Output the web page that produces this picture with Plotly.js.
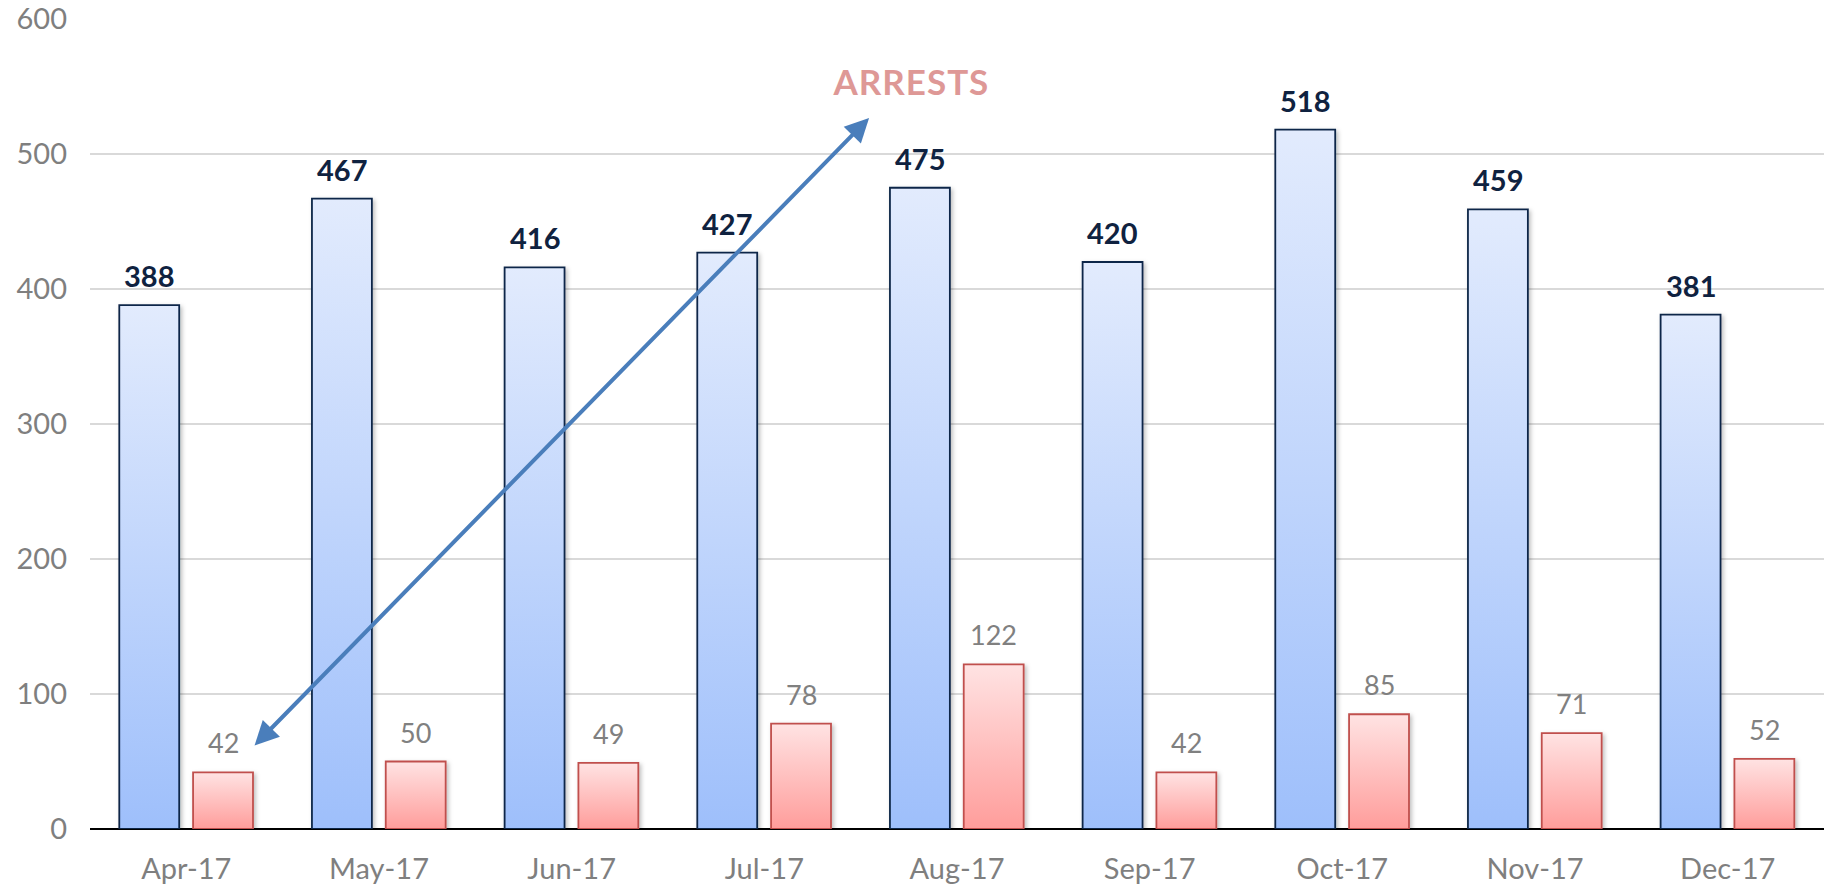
<!DOCTYPE html>
<html>
<head>
<meta charset="utf-8">
<script src="https://cdn.plot.ly/plotly-3.0.1.min.js"></script>
<style>
html,body{margin:0;padding:0;background:#fff;}
#chart{width:1831px;height:889px;}
</style>
</head>
<body>
<div id="chart"></div>
<script>
const months = ["Apr-17","May-17","Jun-17","Jul-17","Aug-17","Sep-17","Oct-17","Nov-17","Dec-17"];
const totalValues = [388,467,416,427,475,420,518,459,381];
const arrestValues = [42,50,49,78,122,42,85,71,52];
const yTicks = [0,100,200,300,400,500,600];
const calloutText = "ARRESTS";

const FONT = "Lato, 'Open Sans', sans-serif";
const BAR_W = 0.311;
const BLUE_OFF = -0.348;
const RED_OFF = 0.035;

const traces = [
  {
    type: "bar", name: "Total", x: months, y: totalValues,
    width: BAR_W, offset: BLUE_OFF,
    marker: {color: "#C0D5FC", line: {color: "#10284A", width: 1.8}},
    hoverinfo: "x+y"
  },
  {
    type: "bar", name: "Arrests", x: months, y: arrestValues,
    width: BAR_W, offset: RED_OFF,
    marker: {color: "#FFC0C0", line: {color: "#C0504D", width: 1.8}},
    hoverinfo: "x+y"
  }
];

const annotations = [];
months.forEach((m, i) => {
  annotations.push({
    x: i + BLUE_OFF + BAR_W / 2, y: totalValues[i], xref: "x", yref: "y",
    text: String(totalValues[i]), showarrow: false, xanchor: "center", yanchor: "bottom", yshift: 10,
    font: {family: FONT, size: 29, color: "#0F2240", weight: 700}
  });
  annotations.push({
    x: i + RED_OFF + BAR_W / 2, y: arrestValues[i], xref: "x", yref: "y",
    text: String(arrestValues[i]), showarrow: false, xanchor: "center", yanchor: "bottom", yshift: 11,
    font: {family: FONT, size: 27, color: "#808080"}
  });
});
annotations.push({
  xref: "paper", yref: "paper", x: 0.4735, y: 0.923,
  xanchor: "center", yanchor: "middle",
  text: calloutText, showarrow: false,
  font: {family: FONT, size: 35, color: "#DE9896", weight: 700}
});
annotations.push({
  xref: "paper", yref: "paper", x: 0.4493, y: 0.8778,
  ax: -616, ay: 629, text: "", showarrow: true,
  arrowside: "end+start", arrowhead: 2, startarrowhead: 2,
  arrowsize: 1.2, startarrowsize: 1.2, arrowwidth: 4, arrowcolor: "#4A7EBB",
  standoff: 0, startstandoff: 0
});

const layout = {
  width: 1831, height: 889,
  margin: {l: 90, r: 7, t: 19, b: 60},
  paper_bgcolor: "#fff", plot_bgcolor: "#fff",
  showlegend: false,
  barmode: "group",
  font: {family: FONT},
  xaxis: {
    type: "category", showgrid: false, zeroline: false,
    showline: false, ticks: "",
    tickfont: {family: FONT, size: 29, color: "#7F7F7F"},
    ticklabelstandoff: 20
  },
  yaxis: {
    range: [0, 600], tickvals: yTicks, ticktext: yTicks.map(String),
    showgrid: true, gridcolor: "#D9D9D9", gridwidth: 1.5,
    zeroline: true, zerolinecolor: "#000", zerolinewidth: 1.5,
    showline: false, ticks: "",
    tickfont: {family: FONT, size: 29, color: "#7F7F7F"},
    ticklabelstandoff: 22
  },
  annotations: annotations
};

Plotly.newPlot("chart", traces, layout, {displayModeBar: false, staticPlot: true}).then(() => {
  const svg = document.querySelector("#chart .main-svg");
  const ns = "http://www.w3.org/2000/svg";
  let defs = svg.querySelector("defs");
  if (!defs) { defs = document.createElementNS(ns, "defs"); svg.insertBefore(defs, svg.firstChild); }
  function grad(id, top, bottom) {
    const g = document.createElementNS(ns, "linearGradient");
    g.setAttribute("id", id);
    g.setAttribute("x1", "0"); g.setAttribute("y1", "0");
    g.setAttribute("x2", "0"); g.setAttribute("y2", "1");
    [[0, top], [1, bottom]].forEach(([o, c]) => {
      const s = document.createElementNS(ns, "stop");
      s.setAttribute("offset", o); s.setAttribute("stop-color", c);
      g.appendChild(s);
    });
    defs.appendChild(g);
  }
  grad("gradBlue", "#E2EBFD", "#9EBFFB");
  grad("gradRed", "#FFE3E3", "#FF9D9B");
  const f = document.createElementNS(ns, "filter");
  f.setAttribute("id", "shadow");
  f.setAttribute("x", "-20%"); f.setAttribute("y", "-20%");
  f.setAttribute("width", "140%"); f.setAttribute("height", "140%");
  f.innerHTML = '<feDropShadow dx="2" dy="2" stdDeviation="2" flood-color="#000" flood-opacity="0.25"/>';
  defs.appendChild(f);
  const groups = document.querySelectorAll("#chart .barlayer .trace.bars");
  groups.forEach((g, i) => {
    const id = i === 0 ? "gradBlue" : "gradRed";
    g.querySelectorAll("path").forEach(p => {
      p.style.fill = "url(#" + id + ")";
      p.style.filter = "url(#shadow)";
    });
  });
  document.querySelectorAll("#chart .annotation-text").forEach(t => {
    if (t.textContent === calloutText) t.style.letterSpacing = "1px";
  });
});
</script>
</body>
</html>
